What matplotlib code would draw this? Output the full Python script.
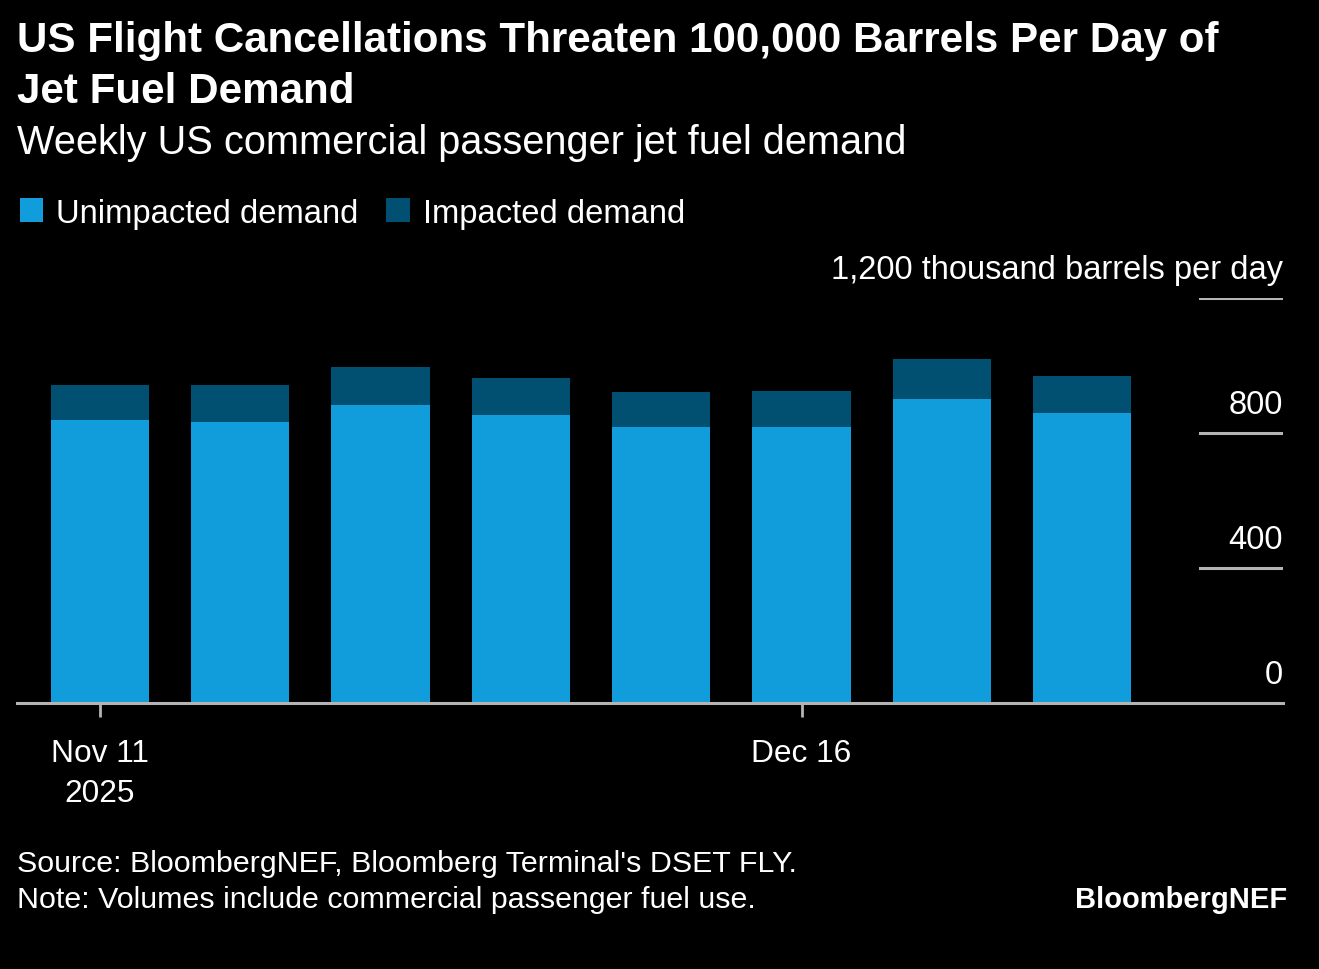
"""
US flight cancellations vs weekly jet fuel demand (BloombergNEF style chart).
"""

import numpy as np
import pandas as pd
import matplotlib

matplotlib.use("Agg")
import matplotlib.pyplot as plt
import matplotlib.transforms as mtransforms


WEEKS = ["2025-11-11", "2025-11-18", "2025-11-25", "2025-12-02",
         "2025-12-09", "2025-12-16", "2025-12-23", "2025-12-30"]
UNIMPACTED = [838, 832, 883, 853, 818, 818, 900, 859]
IMPACTED = [104, 110, 112, 109, 103, 106, 118, 109]
Y_TICKS = [0, 400, 800, 1200]
X_TICK_WEEKS = ["2025-11-11", "2025-12-16"]

LIGHT_BLUE = "#119ddb"
DARK_BLUE = "#015071"
GREY = "#b4b4b4"
FONT = ["Liberation Sans", "DejaVu Sans"]


def main() -> None:
    plt.rcParams["font.family"] = FONT

    dates = pd.to_datetime(WEEKS)
    x = np.arange(len(dates))

    fig = plt.figure(figsize=(13.19, 9.70), dpi=100, facecolor="black")
    ax = fig.add_axes([17 / 1319, 266 / 970, 1266 / 1319, 405 / 970])
    ax.set_facecolor("black")

    ax.bar(x, UNIMPACTED, width=0.7, color=LIGHT_BLUE, label="Unimpacted demand", zorder=2)
    ax.bar(x, IMPACTED, width=0.7, bottom=UNIMPACTED, color=DARK_BLUE,
           label="Impacted demand", zorder=2)

    ax.set_xlim(-0.59, 8.43)
    ax.set_ylim(0, 1200)

    for side in ["left", "right", "top", "bottom"]:
        ax.spines[side].set_visible(False)
    ax.set_yticks([])

    # baseline plus short gridline stubs under the right-hand labels
    ax.axhline(0, color=GREY, linewidth=2.2, zorder=3, clip_on=False)
    for v in Y_TICKS[1:]:
        ax.axhline(v, xmin=0.9344, xmax=1.0, color=GREY, linewidth=2.2, zorder=3)

    offset = mtransforms.offset_copy(ax.get_yaxis_transform(), fig=fig, x=0, y=13, units="dots")
    for v in Y_TICKS:
        label = f"{v:,}"
        if v == Y_TICKS[-1]:
            label = f"{v:,} thousand barrels per day"
        ax.text(1.0, v, label, transform=offset, ha="right", va="bottom",
                color="white", fontsize=23.5)

    tick_pos = [list(WEEKS).index(w) for w in X_TICK_WEEKS]
    tick_labels = []
    for w in X_TICK_WEEKS:
        d = pd.Timestamp(w)
        text = d.strftime("%b ") + str(d.day)
        if w == X_TICK_WEEKS[0]:
            text += "\n" + str(d.year)
        tick_labels.append(text)
    ax.set_xticks(tick_pos)
    ax.set_xticklabels(tick_labels, color="white", fontsize=22.8, linespacing=1.45)
    ax.tick_params(axis="x", colors=GREY, length=10, width=2, pad=15, labelcolor="white")

    # titles
    fig.text(17 / 1319, 1 - 41 / 970, "US Flight Cancellations Threaten 100,000 Barrels Per Day of",
             color="white", fontsize=30.3, fontweight="bold", va="center")
    fig.text(17 / 1319, 1 - 92 / 970, "Jet Fuel Demand",
             color="white", fontsize=30.3, fontweight="bold", va="center")
    fig.text(17 / 1319, 1 - 143 / 970, "Weekly US commercial passenger jet fuel demand",
             color="white", fontsize=28.6, va="center")

    # legend
    handles, labels = ax.get_legend_handles_labels()
    fig.legend(handles, labels, loc="center left", bbox_to_anchor=(-10 / 1319, 1 - 214 / 970),
               ncol=2, frameon=False, fontsize=23.6, handlelength=0.72, handleheight=0.72,
               handletextpad=0.4, columnspacing=0.85, labelcolor="white")

    # footer
    fig.text(17 / 1319, 1 - 864 / 970, "Source: BloombergNEF, Bloomberg Terminal's DSET FLY.",
             color="white", fontsize=21.9, va="center")
    fig.text(17 / 1319, 1 - 900 / 970, "Note: Volumes include commercial passenger fuel use.",
             color="white", fontsize=21.9, va="center")
    fig.text(1287 / 1319, 1 - 900 / 970, "BloombergNEF",
             color="white", fontsize=21, fontweight="bold", va="center", ha="right")

    fig.savefig("out.png", dpi=100, facecolor="black")


if __name__ == "__main__":
    main()
